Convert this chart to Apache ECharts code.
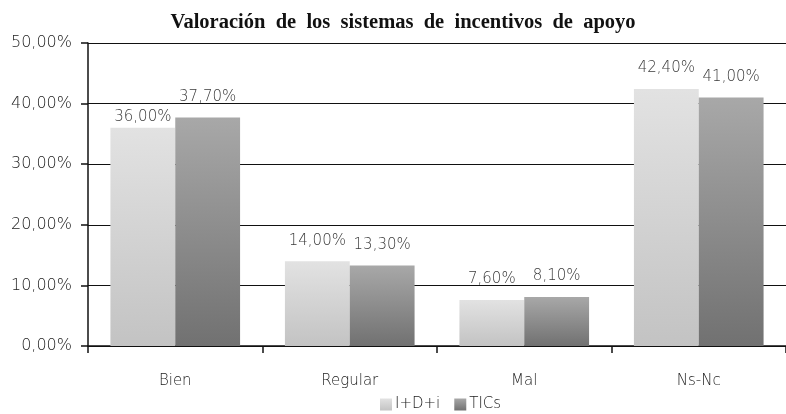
<!DOCTYPE html>
<html style="height: 100%">
<head>
    <meta charset="utf-8">
</head>
<body style="height: 100%; margin: 0; background: #fff">
    <div id="container" style="width: 786px; height: 414px"></div>
    <script src="https://cdn.jsdelivr.net/npm/echarts@6/dist/echarts.min.js"></script>
    <script>
        const categories = ['Bien', 'Regular', 'Mal', 'Ns-Nc'];
        const idiValues = [36.0, 14.0, 7.6, 42.4];
        const ticsValues = [37.7, 13.3, 8.1, 41.0];
        const seriesNames = ['I+D+i', 'TICs'];

        const textFont = "'DejaVu Sans', sans-serif";
        const fmt = v => v.toFixed(2).replace('.', ',') + '%';

        const grad = (top, bottom) => new echarts.graphic.LinearGradient(0, 0, 0, 1, [
            { offset: 0, color: top },
            { offset: 1, color: bottom }
        ]);

        const labelStyle = {
            show: true,
            position: 'top',
            distance: 13,
            formatter: p => fmt(p.value),
            fontFamily: textFont,
            fontWeight: 200,
            fontSize: 15,
            color: '#3a3a3a'
        };

        const myChart = echarts.init(document.getElementById('container'));

        const option = {
            animation: false,
            title: {
                // wide word spacing like the original
                text: 'Valoración  de  los  sistemas  de  incentivos  de  apoyo',
                left: 398,
                textAlign: 'center',
                top: 7,
                textStyle: {
                    fontFamily: "'Liberation Serif', serif",
                    fontWeight: 'bold',
                    fontSize: 20.5,
                    color: '#111'
                }
            },
            legend: {
                top: 392,
                left: 375,
                itemWidth: 12,
                itemHeight: 12,
                itemGap: 14,
                icon: 'rect',
                data: seriesNames,
                textStyle: {
                    fontFamily: textFont,
                    fontWeight: 200,
                    fontSize: 15,
                    color: '#222',
                    padding: [0, 0, 0, -2]
                }
            },
            grid: {
                left: 88,
                right: -3,
                top: 43,
                bottom: 68
            },
            xAxis: {
                type: 'category',
                data: categories,
                axisLine: { lineStyle: { color: '#111', width: 1.5 } },
                axisTick: { show: true, length: 7, lineStyle: { color: '#111', width: 1.5 } },
                axisLabel: {
                    fontFamily: textFont,
                    fontWeight: 200,
                    fontSize: 15,
                    color: '#222',
                    margin: 28
                }
            },
            yAxis: {
                type: 'value',
                min: 0,
                max: 50,
                interval: 10,
                axisLine: { show: true, lineStyle: { color: '#111', width: 1.5 } },
                axisTick: { show: true, length: 7, lineStyle: { color: '#111', width: 1.5 } },
                splitLine: { lineStyle: { color: '#111', width: 1 } },
                axisLabel: {
                    formatter: v => fmt(v),
                    fontFamily: textFont,
                    fontWeight: 200,
                    fontSize: 16,
                    color: '#222',
                    margin: 16
                }
            },
            series: [
                {
                    name: seriesNames[0],
                    type: 'bar',
                    // first label sits close to its bar in the original
                    data: idiValues.map((v, i) => i === 0 ? { value: v, label: { distance: 3 } } : v),
                    barGap: '0%',
                    barCategoryGap: '25.7%',
                    itemStyle: { color: grad('#e2e2e2', '#c3c3c3') },
                    label: labelStyle
                },
                {
                    name: seriesNames[1],
                    type: 'bar',
                    data: ticsValues,
                    barGap: '0%',
                    barCategoryGap: '25.7%',
                    itemStyle: { color: grad('#a8a8a8', '#717171') },
                    label: labelStyle
                }
            ]
        };

        myChart.setOption(option);
    </script>
</body>
</html>
